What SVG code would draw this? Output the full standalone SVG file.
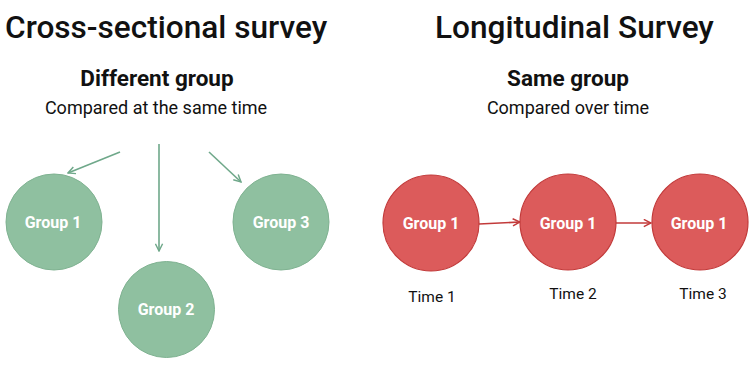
<svg xmlns="http://www.w3.org/2000/svg" width="750" height="365" viewBox="0 0 750 365">
<style>
text{font-family:Roboto,"Liberation Sans",sans-serif;fill:#111}
.title{font-size:31.6px;font-weight:500}
.sub{font-size:22.5px;font-weight:700;text-anchor:middle}
.desc{font-size:18px;text-anchor:middle}
.g circle{fill:#8fc0a0;stroke:#7fb291;stroke-width:1}
.r circle{fill:#dc5b5b;stroke:#c23a3a;stroke-width:1.2}
.lbl{font-size:16px;font-weight:700;fill:#fff;text-anchor:middle}
.time{font-size:15.5px;text-anchor:middle}
.ga{stroke:#6fa88a;stroke-width:1.6;fill:none}
.ra{stroke:#c23a3a;stroke-width:1.6;fill:none}
</style>
<defs>
<marker id="mg" viewBox="0 0 10 10" refX="9" refY="5" markerWidth="9" markerHeight="9" orient="auto" markerUnits="userSpaceOnUse"><path d="M1,1 L9,5 L1,9" fill="none" stroke="#6fa88a" stroke-width="1.6"/></marker>
<marker id="mr" viewBox="0 0 10 10" refX="9" refY="5" markerWidth="9" markerHeight="9" orient="auto" markerUnits="userSpaceOnUse"><path d="M1,1 L9,5 L1,9" fill="none" stroke="#c23a3a" stroke-width="1.6"/></marker>
</defs>
<text class="title" x="5" y="38">Cross-sectional survey</text>
<text class="title" x="435" y="38">Longitudinal Survey</text>
<text class="sub" x="157" y="86">Different group</text>
<text class="desc" x="156" y="114">Compared at the same time</text>
<text class="sub" x="568" y="86">Same group</text>
<text class="desc" x="568" y="114">Compared over time</text>
<g id="connectors">
<line class="ga" x1="120" y1="152" x2="68" y2="173" marker-end="url(#mg)"/>
<line class="ga" x1="159" y1="144" x2="159" y2="251" marker-end="url(#mg)"/>
<line class="ga" x1="209" y1="152" x2="241" y2="182" marker-end="url(#mg)"/>
<line class="ra" x1="479" y1="224" x2="520" y2="222" marker-end="url(#mr)"/>
<line class="ra" x1="616" y1="223" x2="651" y2="223" marker-end="url(#mr)"/>
</g>
<g id="cs-group1" class="g"><circle cx="54" cy="222" r="48"/><text class="lbl" x="53" y="228">Group 1</text></g>
<g id="cs-group2" class="g"><circle cx="166.5" cy="309.5" r="48"/><text class="lbl" x="166" y="315">Group 2</text></g>
<g id="cs-group3" class="g"><circle cx="281" cy="222" r="48"/><text class="lbl" x="281" y="228">Group 3</text></g>
<g id="lg-time1" class="r"><circle cx="431" cy="223" r="48"/><text class="lbl" x="431" y="229">Group 1</text><text class="time" x="432" y="302">Time 1</text></g>
<g id="lg-time2" class="r"><circle cx="568" cy="222" r="48"/><text class="lbl" x="568" y="229">Group 1</text><text class="time" x="573" y="299">Time 2</text></g>
<g id="lg-time3" class="r"><circle cx="700" cy="222" r="48"/><text class="lbl" x="699" y="229">Group 1</text><text class="time" x="703" y="299">Time 3</text></g>
</svg>
